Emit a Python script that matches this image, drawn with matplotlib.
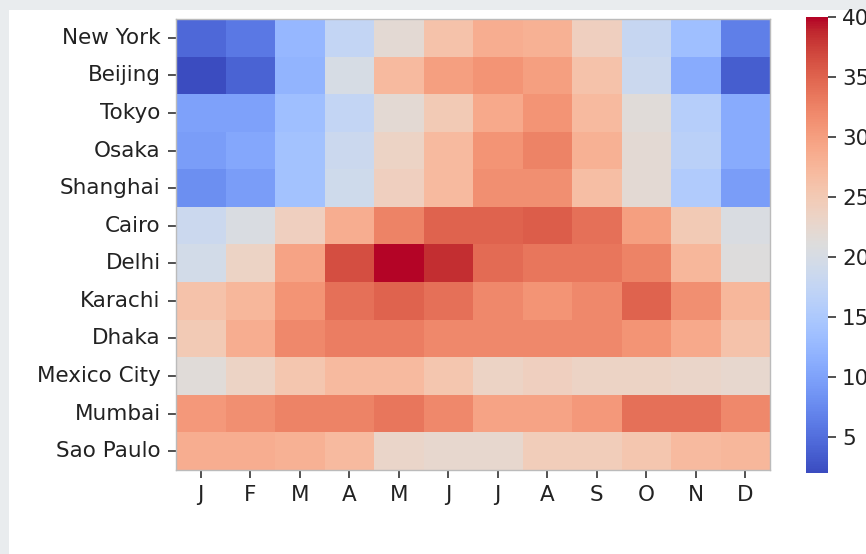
import numpy as np
import matplotlib
matplotlib.use("Agg")
import matplotlib.pyplot as plt
from matplotlib.patches import Rectangle
import seaborn as sns

# Şehirler ve aylar
cities = ["New York", "Beijing", "Tokyo", "Osaka", "Shanghai", "Cairo",
          "Delhi", "Karachi", "Dhaka", "Mexico City", "Mumbai", "Sao Paulo"]
months = ["J", "F", "M", "A", "M", "J", "J", "A", "S", "O", "N", "D"]

# Aylık sıcaklıklar (görüntüden tahmini)
new_york = [4.5, 6, 12.5, 17.5, 22, 26, 28.5, 28, 24, 18, 13.5, 6.5]
beijing = [2, 4, 12, 20, 27, 30, 31, 30, 26, 18.5, 11, 3.5]
tokyo = [10, 10, 13.5, 17.5, 22, 25, 29, 31, 27, 21.5, 16, 11]
osaka = [9.5, 10.5, 14, 18.5, 23.5, 27, 31, 32.5, 28, 22, 16.5, 11]
shanghai = [8, 9.5, 14, 19, 24, 27, 31.5, 31.5, 26.5, 22, 15.5, 9.5]
cairo = [18.5, 20.5, 24, 28.5, 32.5, 35, 35, 35.5, 34, 30, 25, 20.5]
delhi = [19.5, 23.5, 29.5, 36.5, 40, 38.5, 34.5, 33.5, 33.5, 32.5, 27.5, 21]
karachi = [26, 27.5, 31, 34, 35, 34, 32, 31, 32, 35, 31.5, 27.5]
dhaka = [25, 28.5, 32, 33, 33, 32, 32, 32, 32, 31, 29, 26]
mexico_city = [21.5, 23.5, 25.5, 27, 27, 25.5, 23.5, 24, 23.5, 23.5, 23, 22.5]
mumbai = [30.5, 31.5, 32.5, 32.5, 33.5, 32, 29.5, 29.5, 30.5, 34, 34, 32]
sao_paulo = [28.5, 28.5, 28, 27, 23, 22.5, 22.5, 24.5, 24.5, 25.5, 27, 27.5]

data = np.array([new_york, beijing, tokyo, osaka, shanghai, cairo,
                 delhi, karachi, dhaka, mexico_city, mumbai, sao_paulo])

fig = plt.figure(figsize=(8.66, 5.54), dpi=100)
fig.patch.set_facecolor("#e9ecee")
# beyaz figür alanı (sol ve üstte gri kenar kalsın)
fig.add_artist(Rectangle((9 / 866, 0), 1, (554 - 10) / 554, transform=fig.transFigure,
                         facecolor="white", edgecolor="none", zorder=-1))

ax = fig.add_axes([176 / 866, 84 / 554, (770 - 176) / 866, (470 - 19) / 554])
cax = fig.add_axes([806 / 866, 81 / 554, 22 / 866, (473 - 17) / 554])

sns.heatmap(data, cmap="coolwarm", ax=ax, cbar_ax=cax,
            xticklabels=months, yticklabels=cities)

fs = 15.5
ax.tick_params(axis="both", labelsize=fs, length=6, width=1.2, pad=5,
               colors="#333333", labelcolor="#222222")
plt.setp(ax.get_yticklabels(), rotation=0)
plt.setp(ax.get_xticklabels(), rotation=0)
for s in ax.spines.values():
    s.set_visible(True)
    s.set_color("#bbbbbb")
    s.set_linewidth(1.0)

cax.set_yticks([5, 10, 15, 20, 25, 30, 35, 40])
cax.tick_params(labelsize=fs, length=6, width=1.2, pad=4,
                colors="#333333", labelcolor="#222222")

fig.savefig("out.png", dpi=100, facecolor=fig.get_facecolor())
